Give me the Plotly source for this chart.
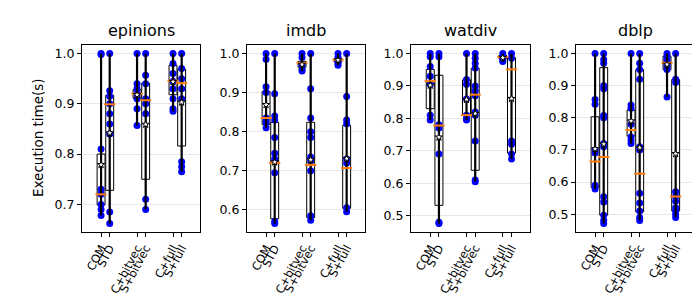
import plotly.graph_objects as go

datasets = ["epinions", "imdb", "watdiv", "dblp"]
methods = ["COM", "STD", "C+bitvec", "S+bitvec", "C+full", "S+full"]
positions = [0.88, 1.12, 1.88, 2.12, 2.88, 3.12]

# observed points per box (per dataset, 6 lists in method order)
epinions_pts = [
    [1.0, 0.998, 0.81, 0.73, 0.72, 0.70, 0.69, 0.678],
    [1.0, 0.926, 0.915, 0.90, 0.88, 0.86, 0.84, 0.685, 0.662],
    [1.0, 0.94, 0.93, 0.92, 0.91, 0.89, 0.857],
    [1.0, 0.957, 0.94, 0.91, 0.90, 0.88, 0.71, 0.69],
    [1.0, 0.98, 0.96, 0.945, 0.93, 0.91, 0.89, 0.885],
    [1.0, 0.97, 0.95, 0.93, 0.91, 0.785, 0.775, 0.765],
]
imdb_pts = [
    [1.0, 0.985, 0.915, 0.90, 0.835, 0.825, 0.81],
    [1.0, 0.897, 0.84, 0.83, 0.785, 0.745, 0.73, 0.695, 0.57, 0.565],
    [1.0, 0.99, 0.97, 0.96, 0.955],
    [1.0, 0.91, 0.835, 0.80, 0.785, 0.735, 0.725, 0.70, 0.585, 0.573],
    [1.0, 0.99, 0.98, 0.975, 0.97],
    [1.0, 0.89, 0.83, 0.82, 0.73, 0.72, 0.605, 0.595],
]
watdiv_pts = [
    [1.0, 0.99, 0.96, 0.93, 0.905, 0.81, 0.795],
    [1.0, 0.99, 0.78, 0.77, 0.69, 0.48, 0.476],
    [1.0, 0.92, 0.905, 0.86, 0.81, 0.80, 0.795],
    [1.0, 0.985, 0.97, 0.955, 0.90, 0.885, 0.87, 0.82, 0.81, 0.73, 0.61, 0.605],
    [1.0, 0.99, 0.985, 0.98, 0.975],
    [1.0, 0.985, 0.73, 0.72, 0.69, 0.675],
]
dblp_pts = [
    [1.0, 0.857, 0.842, 0.70, 0.69, 0.59, 0.578],
    [1.0, 0.981, 0.97, 0.90, 0.89, 0.807, 0.80, 0.72, 0.71, 0.554, 0.538, 0.497, 0.481, 0.471],
    [1.0, 0.84, 0.83, 0.78, 0.74, 0.73, 0.72],
    [1.0, 0.97, 0.95, 0.92, 0.71, 0.70, 0.565, 0.535, 0.51, 0.49, 0.48],
    [1.0, 0.99, 0.98, 0.97, 0.96, 0.95, 0.865],
    [1.0, 0.92, 0.91, 0.57, 0.555, 0.54, 0.52, 0.51, 0.50, 0.49],
]

# box statistics (q1, median, q3, mean) per dataset
epinions_q1 = [0.699, 0.728, 0.911, 0.750, 0.918, 0.816]
epinions_med = [0.720, 0.899, 0.920, 0.907, 0.946, 0.941]
epinions_q3 = [0.800, 0.917, 0.928, 0.941, 0.977, 0.969]
epinions_mean = [0.779, 0.842, 0.918, 0.859, 0.944, 0.903]

imdb_q1 = [0.818, 0.577, 0.965, 0.580, 0.979, 0.604]
imdb_med = [0.835, 0.720, 0.976, 0.715, 0.984, 0.707]
imdb_q3 = [0.903, 0.824, 0.980, 0.824, 0.987, 0.816]
imdb_mean = [0.869, 0.722, 0.972, 0.728, 0.983, 0.731]

watdiv_q1 = [0.830, 0.532, 0.810, 0.640, 0.985, 0.693]
watdiv_med = [0.915, 0.778, 0.810, 0.873, 0.989, 0.951]
watdiv_q3 = [0.951, 0.933, 0.919, 0.954, 0.994, 0.987]
watdiv_mean = [0.902, 0.742, 0.858, 0.815, 0.987, 0.861]

dblp_q1 = [0.583, 0.497, 0.743, 0.507, 0.950, 0.510]
dblp_med = [0.664, 0.678, 0.762, 0.626, 0.971, 0.555]
dblp_q3 = [0.803, 0.956, 0.824, 0.950, 0.992, 0.919]
dblp_mean = [0.703, 0.718, 0.790, 0.707, 0.966, 0.688]

all_pts = [epinions_pts, imdb_pts, watdiv_pts, dblp_pts]
all_q1 = [epinions_q1, imdb_q1, watdiv_q1, dblp_q1]
all_med = [epinions_med, imdb_med, watdiv_med, dblp_med]
all_q3 = [epinions_q3, imdb_q3, watdiv_q3, dblp_q3]
all_mean = [epinions_mean, imdb_mean, watdiv_mean, dblp_mean]
yticks = [[0.7, 0.8, 0.9, 1.0], [0.6, 0.7, 0.8, 0.9, 1.0],
          [0.5, 0.6, 0.7, 0.8, 0.9, 1.0], [0.5, 0.6, 0.7, 0.8, 0.9, 1.0]]

W, H = 700, 300
x_px = [(74, 192), (239, 357), (403, 522), (568, 686)]
y_top, y_bot = 37, 224
FONT = "DejaVu Sans"

fig = go.Figure()
layout = {}
annotations = []
for i, name in enumerate(datasets):
    ax = "" if i == 0 else str(i + 1)
    xa, ya = "x" + ax, "y" + ax
    pts = all_pts[i]
    mins = [min(p) for p in pts]
    maxs = [max(p) for p in pts]

    # points
    px, py = [], []
    for pos, p in zip(positions, pts):
        px += [pos] * len(p)
        py += p
    fig.add_trace(go.Scatter(x=px, y=py, mode="markers", xaxis=xa, yaxis=ya,
                             marker=dict(color="#0000ff", size=7, line=dict(width=0)),
                             showlegend=False, hoverinfo="skip"))
    # whisker line min..max
    lx, ly = [], []
    for pos, lo, hi in zip(positions, mins, maxs):
        lx += [pos, pos, None]
        ly += [lo, hi, None]
    fig.add_trace(go.Scatter(x=lx, y=ly, mode="lines", xaxis=xa, yaxis=ya,
                             line=dict(color="black", width=2.2),
                             showlegend=False, hoverinfo="skip"))
    # boxes
    fig.add_trace(go.Box(x=positions, q1=all_q1[i], median=all_med[i], q3=all_q3[i],
                         lowerfence=mins, upperfence=maxs, xaxis=xa, yaxis=ya,
                         width=0.22, whiskerwidth=0,
                         line=dict(color="black", width=1),
                         fillcolor="rgba(255,255,255,0.55)",
                         boxpoints=False, showlegend=False, hoverinfo="skip"))
    # medians
    fig.add_trace(go.Scatter(x=positions, y=all_med[i], mode="markers", xaxis=xa, yaxis=ya,
                             marker=dict(symbol="line-ew", size=8,
                                         line=dict(color="#ff7f0e", width=2)),
                             showlegend=False, hoverinfo="skip"))
    # means
    fig.add_trace(go.Scatter(x=positions, y=all_mean[i], mode="markers", xaxis=xa, yaxis=ya,
                             marker=dict(symbol="star", size=5.5, color="white",
                                         line=dict(color="black", width=1)),
                             showlegend=False, hoverinfo="skip"))

    allv = [v for p in pts for v in p]
    lo, hi = min(allv), max(allv)
    pad = (hi - lo) * 0.05
    x0, x1 = x_px[i]
    layout["xaxis" + ax] = dict(
        domain=[x0 / W, x1 / W], anchor=ya, range=[0.35, 3.63],
        tickmode="array", tickvals=positions, ticktext=methods, tickangle=-62,
        ticks="outside", ticklen=4, tickcolor="black", tickwidth=1,
        showline=True, linecolor="black", linewidth=1, mirror=True,
        showgrid=False, zeroline=False,
        tickfont=dict(family=FONT, size=11.5, color="black"))
    layout["yaxis" + ax] = dict(
        domain=[1 - y_bot / H, 1 - y_top / H], anchor=xa, range=[lo - pad, hi + pad],
        tickmode="array", tickvals=yticks[i], tickformat=".1f",
        ticks="outside", ticklen=4, tickcolor="black", tickwidth=1,
        showline=True, linecolor="black", linewidth=1, mirror=True,
        showgrid=True, gridcolor="#e6e6e6", gridwidth=1, zeroline=False,
        tickfont=dict(family=FONT, size=12.5, color="black"))
    annotations.append(dict(text=name, x=(x0 + x1) / 2 / W, y=1 - 22 / H,
                            xref="paper", yref="paper", showarrow=False,
                            xanchor="center", yanchor="middle",
                            font=dict(family=FONT, size=16, color="black")))

annotations.append(dict(text="Execution time(s)", x=30 / W, y=1 - 130 / H,
                        xref="paper", yref="paper", showarrow=False, textangle=-90,
                        xanchor="center", yanchor="middle",
                        font=dict(family=FONT, size=13.5, color="black")))

fig.update_layout(width=W, height=H, margin=dict(l=0, r=0, t=0, b=0),
                  paper_bgcolor="white", plot_bgcolor="white",
                  annotations=annotations, **layout)
fig.write_html("out.html")
